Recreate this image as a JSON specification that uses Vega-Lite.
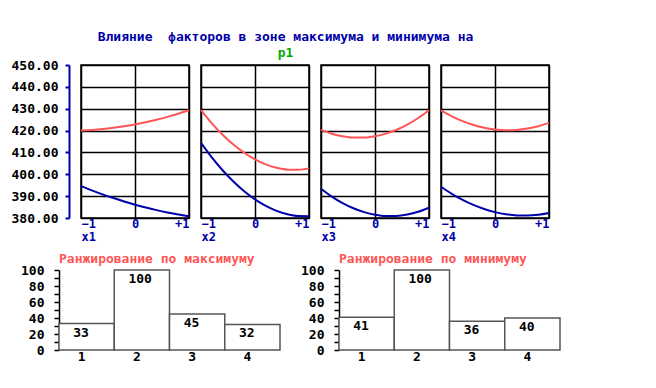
{
  "$schema": "https://vega.github.io/schema/vega-lite/v6.json",
  "background": "white",
  "padding": {"left": 10, "top": 31, "right": 10, "bottom": 10},
  "config": {
    "font": "DejaVu Sans Mono",
    "axis": {"labelFont": "DejaVu Sans Mono", "labelFontSize": 13, "labelFontWeight": "bold", "titleFont": "DejaVu Sans Mono", "titleFontSize": 13, "titleFontWeight": "bold"},
    "text": {"font": "DejaVu Sans Mono"}
  },
  "title": {
    "text": "Влияние\u00a0 факторов в зоне максимума и минимума на",
    "subtitle": "\u00a0\u00a0p1",
    "font": "DejaVu Sans Mono", "fontSize": 13, "fontWeight": "bold", "color": "#0000aa",
    "subtitleFont": "DejaVu Sans Mono", "subtitleFontSize": 13, "subtitleFontWeight": "bold", "subtitleColor": "#00aa00",
    "subtitlePadding": 2.5, "offset": -1.5, "anchor": "middle"
  },
  "datasets": {
    "curves": [
      {"f": "x1", "t": "max", "x": -1, "y": 420.0}, {"f": "x1", "t": "max", "x": -0.8, "y": 420.26}, {"f": "x1", "t": "max", "x": -0.6, "y": 420.68}, {"f": "x1", "t": "max", "x": -0.4, "y": 421.24}, {"f": "x1", "t": "max", "x": -0.2, "y": 421.94}, {"f": "x1", "t": "max", "x": 0, "y": 422.8}, {"f": "x1", "t": "max", "x": 0.2, "y": 423.8}, {"f": "x1", "t": "max", "x": 0.4, "y": 424.96}, {"f": "x1", "t": "max", "x": 0.6, "y": 426.26}, {"f": "x1", "t": "max", "x": 0.8, "y": 427.7}, {"f": "x1", "t": "max", "x": 1, "y": 429.3},
      {"f": "x1", "t": "min", "x": -1, "y": 394.6}, {"f": "x1", "t": "min", "x": -0.8, "y": 392.64}, {"f": "x1", "t": "min", "x": -0.6, "y": 390.82}, {"f": "x1", "t": "min", "x": -0.4, "y": 389.12}, {"f": "x1", "t": "min", "x": -0.2, "y": 387.54}, {"f": "x1", "t": "min", "x": 0, "y": 386.1}, {"f": "x1", "t": "min", "x": 0.2, "y": 384.78}, {"f": "x1", "t": "min", "x": 0.4, "y": 383.6}, {"f": "x1", "t": "min", "x": 0.6, "y": 382.54}, {"f": "x1", "t": "min", "x": 0.8, "y": 381.6}, {"f": "x1", "t": "min", "x": 1, "y": 380.8},
      {"f": "x2", "t": "max", "x": -1, "y": 429.3}, {"f": "x2", "t": "max", "x": -0.8, "y": 423.33}, {"f": "x2", "t": "max", "x": -0.6, "y": 418.09}, {"f": "x2", "t": "max", "x": -0.4, "y": 413.59}, {"f": "x2", "t": "max", "x": -0.2, "y": 409.83}, {"f": "x2", "t": "max", "x": 0, "y": 406.8}, {"f": "x2", "t": "max", "x": 0.2, "y": 404.51}, {"f": "x2", "t": "max", "x": 0.4, "y": 402.95}, {"f": "x2", "t": "max", "x": 0.6, "y": 402.13}, {"f": "x2", "t": "max", "x": 0.8, "y": 402.05}, {"f": "x2", "t": "max", "x": 1, "y": 402.7},
      {"f": "x2", "t": "min", "x": -1, "y": 414.4}, {"f": "x2", "t": "min", "x": -0.8, "y": 407.76}, {"f": "x2", "t": "min", "x": -0.6, "y": 401.86}, {"f": "x2", "t": "min", "x": -0.4, "y": 396.68}, {"f": "x2", "t": "min", "x": -0.2, "y": 392.22}, {"f": "x2", "t": "min", "x": 0, "y": 388.5}, {"f": "x2", "t": "min", "x": 0.2, "y": 385.5}, {"f": "x2", "t": "min", "x": 0.4, "y": 383.24}, {"f": "x2", "t": "min", "x": 0.6, "y": 381.7}, {"f": "x2", "t": "min", "x": 0.8, "y": 380.88}, {"f": "x2", "t": "min", "x": 1, "y": 380.8},
      {"f": "x3", "t": "max", "x": -1, "y": 420.3}, {"f": "x3", "t": "max", "x": -0.8, "y": 418.54}, {"f": "x3", "t": "max", "x": -0.6, "y": 417.36}, {"f": "x3", "t": "max", "x": -0.4, "y": 416.78}, {"f": "x3", "t": "max", "x": -0.2, "y": 416.8}, {"f": "x3", "t": "max", "x": 0, "y": 417.4}, {"f": "x3", "t": "max", "x": 0.2, "y": 418.6}, {"f": "x3", "t": "max", "x": 0.4, "y": 420.38}, {"f": "x3", "t": "max", "x": 0.6, "y": 422.76}, {"f": "x3", "t": "max", "x": 0.8, "y": 425.74}, {"f": "x3", "t": "max", "x": 1, "y": 429.3},
      {"f": "x3", "t": "min", "x": -1, "y": 393.4}, {"f": "x3", "t": "min", "x": -0.8, "y": 389.81}, {"f": "x3", "t": "min", "x": -0.6, "y": 386.83}, {"f": "x3", "t": "min", "x": -0.4, "y": 384.45}, {"f": "x3", "t": "min", "x": -0.2, "y": 382.67}, {"f": "x3", "t": "min", "x": 0, "y": 381.5}, {"f": "x3", "t": "min", "x": 0.2, "y": 380.93}, {"f": "x3", "t": "min", "x": 0.4, "y": 380.97}, {"f": "x3", "t": "min", "x": 0.6, "y": 381.61}, {"f": "x3", "t": "min", "x": 0.8, "y": 382.85}, {"f": "x3", "t": "min", "x": 1, "y": 384.7},
      {"f": "x4", "t": "max", "x": -1, "y": 429.2}, {"f": "x4", "t": "max", "x": -0.8, "y": 426.52}, {"f": "x4", "t": "max", "x": -0.6, "y": 424.32}, {"f": "x4", "t": "max", "x": -0.4, "y": 422.58}, {"f": "x4", "t": "max", "x": -0.2, "y": 421.3}, {"f": "x4", "t": "max", "x": 0, "y": 420.5}, {"f": "x4", "t": "max", "x": 0.2, "y": 420.16}, {"f": "x4", "t": "max", "x": 0.4, "y": 420.3}, {"f": "x4", "t": "max", "x": 0.6, "y": 420.9}, {"f": "x4", "t": "max", "x": 0.8, "y": 421.96}, {"f": "x4", "t": "max", "x": 1, "y": 423.5},
      {"f": "x4", "t": "min", "x": -1, "y": 394.3}, {"f": "x4", "t": "min", "x": -0.8, "y": 391.08}, {"f": "x4", "t": "min", "x": -0.6, "y": 388.32}, {"f": "x4", "t": "min", "x": -0.4, "y": 385.99}, {"f": "x4", "t": "min", "x": -0.2, "y": 384.12}, {"f": "x4", "t": "min", "x": 0, "y": 382.7}, {"f": "x4", "t": "min", "x": 0.2, "y": 381.72}, {"f": "x4", "t": "min", "x": 0.4, "y": 381.2}, {"f": "x4", "t": "min", "x": 0.6, "y": 381.12}, {"f": "x4", "t": "min", "x": 0.8, "y": 381.48}, {"f": "x4", "t": "min", "x": 1, "y": 382.3}
    ],
    "bars": [
      {"chart": "max", "rank": "1", "value": 33}, {"chart": "max", "rank": "2", "value": 100}, {"chart": "max", "rank": "3", "value": 45}, {"chart": "max", "rank": "4", "value": 32},
      {"chart": "min", "rank": "1", "value": 41}, {"chart": "min", "rank": "2", "value": 100}, {"chart": "min", "rank": "3", "value": 36}, {"chart": "min", "rank": "4", "value": 40}
    ]
  },
  "spacing": 10,
  "vconcat": [
    {
      "spacing": 12,
      "bounds": "flush",
      "hconcat": [
        {
          "width": 10, "height": 153,
          "data": {"values": [{}]},
          "mark": {"type": "point", "opacity": 0},
          "view": {"stroke": null}
        },
        {
          "width": 108, "height": 153,
          "data": {"name": "curves"},
          "transform": [{"filter": "datum.f == 'x1'"}],
          "view": {"stroke": "black", "strokeWidth": 1.5},
          "mark": {"type": "line", "strokeWidth": 2, "interpolate": "monotone"},
          "encoding": {
            "x": {"field": "x", "type": "quantitative", "scale": {"domain": [-1, 1], "nice": false, "zero": false},
              "axis": {"values": [-1, 0, 1], "title": "x1", "titleAnchor": "start", "titleAlign": "left", "titleColor": "#0000aa", "labelColor": "#0000aa", "labelFontSize": 12, "titleFontSize": 12, "labelFlush": true, "labelExpr": "datum.value < 0 ? '−1' : datum.value > 0 ? '+1' : '0'", "domain": false, "ticks": false, "labelPadding": 0, "titlePadding": 2, "grid": true, "gridColor": "black", "gridWidth": 1.5, "gridOpacity": 1, "minExtent": 0}},
            "y": {"field": "y", "type": "quantitative", "scale": {"domain": [380, 450], "nice": false, "zero": false},
              "axis": {"values": [380, 390, 400, 410, 420, 430, 440, 450], "format": ".2f", "offset": 12, "domainColor": "#0000aa", "domainWidth": 2, "tickColor": "#0000aa", "tickSize": 4, "tickWidth": 2, "labelPadding": 7, "labelColor": "black", "title": null, "grid": true, "gridColor": "black", "gridWidth": 1.5, "gridOpacity": 1}},
            "color": {"field": "t", "type": "nominal", "scale": {"domain": ["max", "min"], "range": ["#ff5555", "#0000aa"]}, "legend": null}
          }
        },
        {
          "width": 108, "height": 153,
          "data": {"name": "curves"},
          "transform": [{"filter": "datum.f == 'x2'"}],
          "view": {"stroke": "black", "strokeWidth": 1.5},
          "mark": {"type": "line", "strokeWidth": 2, "interpolate": "monotone"},
          "encoding": {
            "x": {"field": "x", "type": "quantitative", "scale": {"domain": [-1, 1], "nice": false, "zero": false},
              "axis": {"values": [-1, 0, 1], "title": "x2", "titleAnchor": "start", "titleAlign": "left", "titleColor": "#0000aa", "labelColor": "#0000aa", "labelFontSize": 12, "titleFontSize": 12, "labelFlush": true, "labelExpr": "datum.value < 0 ? '−1' : datum.value > 0 ? '+1' : '0'", "domain": false, "ticks": false, "labelPadding": 0, "titlePadding": 2, "grid": true, "gridColor": "black", "gridWidth": 1.5, "gridOpacity": 1, "minExtent": 0}},
            "y": {"field": "y", "type": "quantitative", "scale": {"domain": [380, 450], "nice": false, "zero": false},
              "axis": {"values": [380, 390, 400, 410, 420, 430, 440, 450], "labels": false, "ticks": false, "domain": false, "title": null, "grid": true, "gridColor": "black", "gridWidth": 1.5, "gridOpacity": 1, "minExtent": 0, "maxExtent": 0}},
            "color": {"field": "t", "type": "nominal", "scale": {"domain": ["max", "min"], "range": ["#ff5555", "#0000aa"]}, "legend": null}
          }
        },
        {
          "width": 108, "height": 153,
          "data": {"name": "curves"},
          "transform": [{"filter": "datum.f == 'x3'"}],
          "view": {"stroke": "black", "strokeWidth": 1.5},
          "mark": {"type": "line", "strokeWidth": 2, "interpolate": "monotone"},
          "encoding": {
            "x": {"field": "x", "type": "quantitative", "scale": {"domain": [-1, 1], "nice": false, "zero": false},
              "axis": {"values": [-1, 0, 1], "title": "x3", "titleAnchor": "start", "titleAlign": "left", "titleColor": "#0000aa", "labelColor": "#0000aa", "labelFontSize": 12, "titleFontSize": 12, "labelFlush": true, "labelExpr": "datum.value < 0 ? '−1' : datum.value > 0 ? '+1' : '0'", "domain": false, "ticks": false, "labelPadding": 0, "titlePadding": 2, "grid": true, "gridColor": "black", "gridWidth": 1.5, "gridOpacity": 1, "minExtent": 0}},
            "y": {"field": "y", "type": "quantitative", "scale": {"domain": [380, 450], "nice": false, "zero": false},
              "axis": {"values": [380, 390, 400, 410, 420, 430, 440, 450], "labels": false, "ticks": false, "domain": false, "title": null, "grid": true, "gridColor": "black", "gridWidth": 1.5, "gridOpacity": 1, "minExtent": 0, "maxExtent": 0}},
            "color": {"field": "t", "type": "nominal", "scale": {"domain": ["max", "min"], "range": ["#ff5555", "#0000aa"]}, "legend": null}
          }
        },
        {
          "width": 108, "height": 153,
          "data": {"name": "curves"},
          "transform": [{"filter": "datum.f == 'x4'"}],
          "view": {"stroke": "black", "strokeWidth": 1.5},
          "mark": {"type": "line", "strokeWidth": 2, "interpolate": "monotone"},
          "encoding": {
            "x": {"field": "x", "type": "quantitative", "scale": {"domain": [-1, 1], "nice": false, "zero": false},
              "axis": {"values": [-1, 0, 1], "title": "x4", "titleAnchor": "start", "titleAlign": "left", "titleColor": "#0000aa", "labelColor": "#0000aa", "labelFontSize": 12, "titleFontSize": 12, "labelFlush": true, "labelExpr": "datum.value < 0 ? '−1' : datum.value > 0 ? '+1' : '0'", "domain": false, "ticks": false, "labelPadding": 0, "titlePadding": 2, "grid": true, "gridColor": "black", "gridWidth": 1.5, "gridOpacity": 1, "minExtent": 0}},
            "y": {"field": "y", "type": "quantitative", "scale": {"domain": [380, 450], "nice": false, "zero": false},
              "axis": {"values": [380, 390, 400, 410, 420, 430, 440, 450], "labels": false, "ticks": false, "domain": false, "title": null, "grid": true, "gridColor": "black", "gridWidth": 1.5, "gridOpacity": 1, "minExtent": 0, "maxExtent": 0}},
            "color": {"field": "t", "type": "nominal", "scale": {"domain": ["max", "min"], "range": ["#ff5555", "#0000aa"]}, "legend": null}
          }
        }
      ]
    },
    {
      "spacing": 59,
      "bounds": "flush",
      "hconcat": [
        {
          "width": 221, "height": 80,
          "data": {"name": "bars"},
          "transform": [{"filter": "datum.chart == 'max'"}],
          "title": {"text": "Ранжирование по максимуму", "anchor": "start", "frame": "group", "color": "#ff5555", "font": "DejaVu Sans Mono", "fontSize": 13, "fontWeight": "bold", "offset": -2},
          "view": {"stroke": null},
          "encoding": {
            "x": {"field": "rank", "type": "ordinal", "scale": {"paddingInner": 0, "paddingOuter": 0},
              "axis": {"labelAngle": 0, "title": null, "domain": false, "ticks": false, "labelPadding": 0, "labelOffset": -5, "labelColor": "black", "grid": false}},
            "y": {"field": "value", "type": "quantitative", "scale": {"domain": [0, 100], "nice": false},
              "axis": {"values": [0, 10, 20, 30, 40, 50, 60, 70, 80, 90, 100], "labelExpr": "datum.value % 20 == 0 ? datum.label : ''", "title": null, "domainColor": "black", "domainWidth": 1.5, "tickColor": "black", "tickSize": 5, "tickWidth": 1.5, "labelPadding": 10, "labelColor": "black", "grid": false, "minExtent": 48}}
          },
          "layer": [
            {"mark": {"type": "bar", "fill": "white", "stroke": "#555555", "strokeWidth": 1.5}},
            {"mark": {"type": "text", "align": "left", "baseline": "top", "dx": -13.5, "dy": 3, "fontSize": 13, "fontWeight": "bold", "color": "black"}, "encoding": {"text": {"field": "value", "type": "quantitative"}}}
          ]
        },
        {
          "width": 221, "height": 80,
          "data": {"name": "bars"},
          "transform": [{"filter": "datum.chart == 'min'"}],
          "title": {"text": "Ранжирование по минимуму", "anchor": "start", "frame": "group", "color": "#ff5555", "font": "DejaVu Sans Mono", "fontSize": 13, "fontWeight": "bold", "offset": -2},
          "view": {"stroke": null},
          "encoding": {
            "x": {"field": "rank", "type": "ordinal", "scale": {"paddingInner": 0, "paddingOuter": 0},
              "axis": {"labelAngle": 0, "title": null, "domain": false, "ticks": false, "labelPadding": 0, "labelOffset": -5, "labelColor": "black", "grid": false}},
            "y": {"field": "value", "type": "quantitative", "scale": {"domain": [0, 100], "nice": false},
              "axis": {"values": [0, 10, 20, 30, 40, 50, 60, 70, 80, 90, 100], "labelExpr": "datum.value % 20 == 0 ? datum.label : ''", "title": null, "domainColor": "black", "domainWidth": 1.5, "tickColor": "black", "tickSize": 5, "tickWidth": 1.5, "labelPadding": 10, "labelColor": "black", "grid": false}}
          },
          "layer": [
            {"mark": {"type": "bar", "fill": "white", "stroke": "#555555", "strokeWidth": 1.5}},
            {"mark": {"type": "text", "align": "left", "baseline": "top", "dx": -13.5, "dy": 3, "fontSize": 13, "fontWeight": "bold", "color": "black"}, "encoding": {"text": {"field": "value", "type": "quantitative"}}}
          ]
        }
      ]
    }
  ]
}
